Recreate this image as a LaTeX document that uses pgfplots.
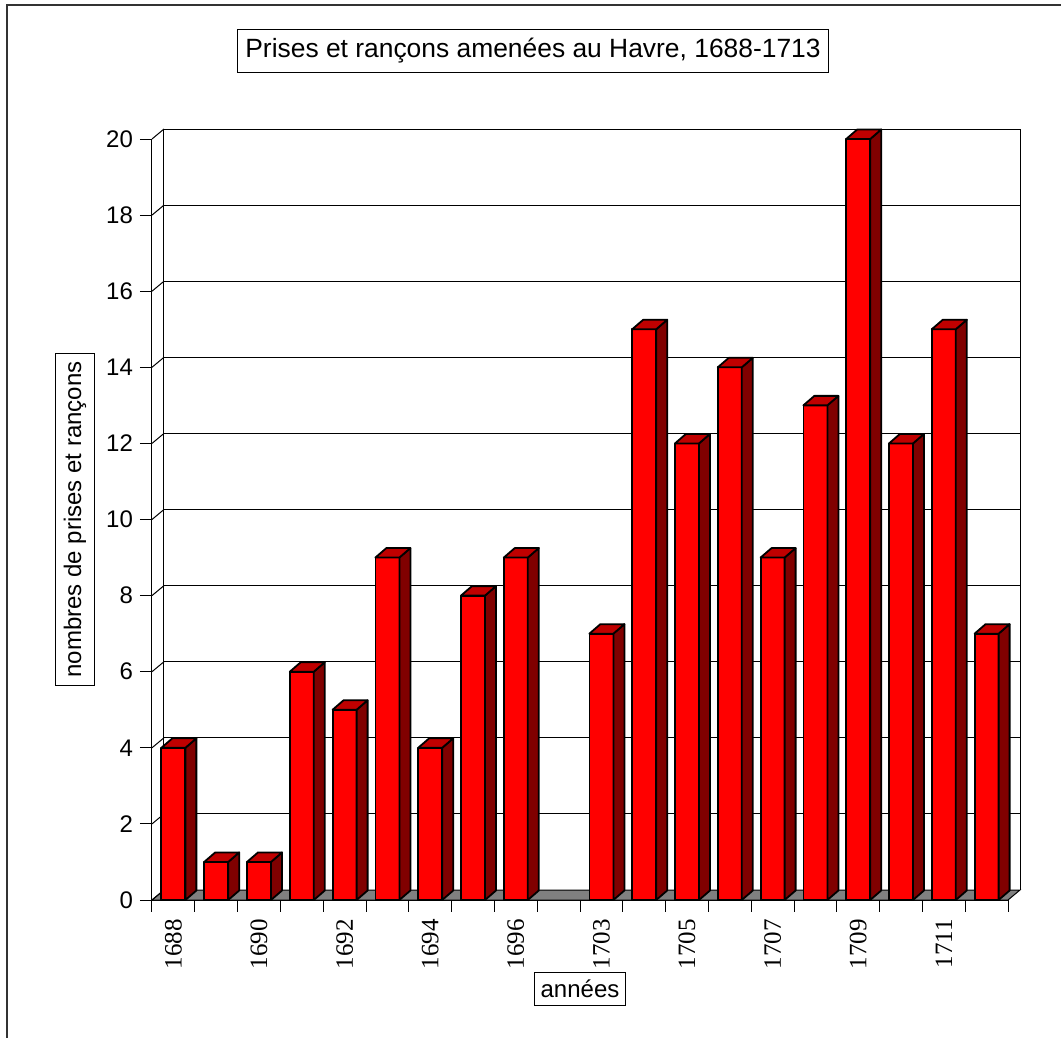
\documentclass[border=0pt]{standalone}
\usepackage{pgfplots}
\pgfplotsset{compat=1.18}
\usepackage{pgfplotstable}
\usepackage{fontspec}
\setmainfont{Liberation Sans}
\newfontfamily\timesf{Liberation Serif}

\definecolor{barfront}{RGB}{255,0,0}
\definecolor{barside}{RGB}{128,0,0}
\definecolor{bartop}{RGB}{192,0,0}
\definecolor{floorgray}{RGB}{128,128,128}

% slot 9 (1697-1702) has no value
\pgfplotstableread{
x v
0 4
1 1
2 1
3 6
4 5
5 9
6 4
7 8
8 9
10 7
11 15
12 12
13 14
14 9
15 13
16 20
17 12
18 15
19 7
}\prises

\newcommand\lbl{\fontsize{12}{14}\selectfont}
\newcommand\yr[1]{{\fontspec{Liberation Serif}\fontsize{12.5}{14}\selectfont #1}}

\begin{document}
\begin{tikzpicture}
\useasboundingbox (0,0) rectangle (530.5pt,-519pt);
% outer frame (left and top only)
\draw[line width=1pt, black!80] (3.5pt,-519pt) -- (3.5pt,-2.5pt) -- (530.5pt,-2.5pt);

\node[draw, line width=0.5pt, inner xsep=4pt, inner ysep=4.5pt,
  font=\fontsize{13.2}{15}\selectfont]
  at (266.5pt,-25.5pt) {Prises et rançons amenées au Havre, 1688-1713};

\begin{axis}[
    at={(76pt,-450pt)}, anchor=south west,
    scale only axis, width=428pt, height=380.5pt,
    xmin=-0.5, xmax=19.5, ymin=0, ymax=20,
    clip=false,
    axis x line*=bottom, axis y line*=left,
    axis line style={-, black, line width=0.5pt},
    tick align=outside, major tick length=6pt,
    tick style={black, line width=0.5pt},
    ytick={0,2,...,20},
    yticklabel style={font=\lbl},
    /pgf/number format/assume math mode=true,
    xtick={0,2,...,18},
    xticklabels={\yr{1688},\yr{1690},\yr{1692},\yr{1694},\yr{1696},
      \yr{1703},\yr{1705},\yr{1707},\yr{1709},\yr{1711}},
    xtick style={draw=none},
    xticklabel style={rotate=90, anchor=east},
    xlabel={années},
    ylabel={nombres de prises et rançons},
    every axis x label/.style={at={(rel axis cs:0.5,0)}, anchor=center,
      yshift=-44.5pt, draw, line width=0.5pt, font=\lbl,
      inner xsep=3pt, inner ysep=4pt},
    every axis y label/.style={at={(rel axis cs:0,0.5)}, anchor=center,
      xshift=-38.5pt, rotate=90, draw, line width=0.5pt, font=\lbl,
      inner xsep=4pt, inner ysep=4pt},
]
% floor
\filldraw[fill=floorgray, draw=black, line width=0.5pt]
  (axis cs:-0.5,0) -- (axis cs:19.5,0)
  -- ([shift={(6pt,5pt)}]axis cs:19.5,0)
  -- ([shift={(6pt,5pt)}]axis cs:-0.5,0) -- cycle;
% tick marks between categories
\pgfplotsinvokeforeach{-0.5,0.5,...,19.5}{
  \draw[black, line width=0.5pt] (axis cs:#1,0) -- ++(0pt,-6pt);
}
% back wall
\draw[black, line width=0.5pt]
  ([shift={(6pt,5pt)}]axis cs:-0.5,0) -- ([shift={(6pt,5pt)}]axis cs:-0.5,20)
  -- ([shift={(6pt,5pt)}]axis cs:19.5,20) -- ([shift={(6pt,5pt)}]axis cs:19.5,0);
\pgfplotsinvokeforeach{2,4,...,18}{
  \draw[black, line width=0.5pt]
    ([shift={(6pt,5pt)}]axis cs:-0.5,#1) -- ([shift={(6pt,5pt)}]axis cs:19.5,#1);
}
\pgfplotsinvokeforeach{0,2,...,20}{
  \draw[black, line width=0.5pt]
    (axis cs:-0.5,#1) -- ([shift={(6pt,5pt)}]axis cs:-0.5,#1);
}

% 3D bars: front, side and top drawn from each value
\addplot[scatter, only marks, mark=-, mark size=0pt,
  visualization depends on={\thisrow{v} \as \val},
  scatter/@pre marker code/.code={
    \pgfmathsetlengthmacro\h{\val*19.025pt}
    \filldraw[fill=barfront, draw=black, line width=0.9pt, line join=round]
      (-6pt,0pt) rectangle (6pt,-\h);
    \filldraw[fill=barside, draw=black, line width=0.9pt, line join=round]
      (6pt,0pt) -- (11.5pt,4.75pt) -- ({11.5pt},{4.75pt-\h}) -- (6pt,-\h) -- cycle;
    \filldraw[fill=bartop, draw=black, line width=0.9pt, line join=round]
      (-6pt,0pt) -- (-0.5pt,4.75pt) -- (11.5pt,4.75pt) -- (6pt,0pt) -- cycle;
  },
  scatter/@post marker code/.code={},
] table[x=x, y=v] {\prises};
\end{axis}
\end{tikzpicture}
\end{document}
